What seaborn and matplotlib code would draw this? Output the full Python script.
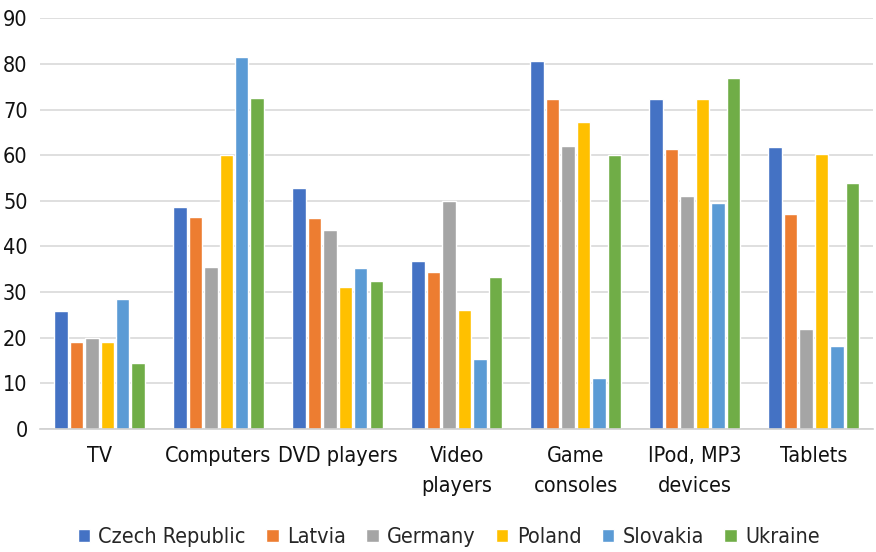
import matplotlib
matplotlib.use("Agg")
import matplotlib.pyplot as plt
from matplotlib import font_manager
import seaborn as sns
import pandas as pd

categories = ["TV", "Computers", "DVD players", "Video\nplayers", "Game\nconsoles",
              "IPod, MP3\ndevices", "Tablets"]
countries = ["Czech Republic", "Latvia", "Germany", "Poland", "Slovakia", "Ukraine"]

czech = [25.8, 48.7, 52.8, 36.9, 80.6, 72.2, 61.7]
latvia = [19.1, 46.5, 46.3, 34.4, 72.2, 61.4, 47.1]
germany = [19.9, 35.5, 43.6, 50.0, 62.0, 51.1, 22.0]
poland = [19.1, 60.0, 31.2, 26.1, 67.3, 72.2, 60.3]
slovakia = [28.5, 81.6, 35.2, 15.3, 11.2, 49.5, 18.2]
ukraine = [14.5, 72.5, 32.4, 33.3, 60.0, 77.0, 53.9]

colors = ["#4472C4", "#ED7D31", "#A5A5A5", "#FFC000", "#5B9BD5", "#70AD47"]

series = [czech, latvia, germany, poland, slovakia, ukraine]
rows = []
for country, vals in zip(countries, series):
    for cat, v in zip(categories, vals):
        rows.append({"category": cat, "country": country, "value": v})
df = pd.DataFrame(rows)

sns.set_theme(style="white")

# prefer a condensed sans face when one is installed
condensed = [f for f in font_manager.fontManager.ttflist
             if f.name.startswith("DejaVu Sans") and f.stretch == "condensed"
             and f.weight in (400, "normal", "book", "regular") and f.style == "normal"]
if condensed:
    plt.rcParams["font.family"] = [condensed[0].name, "DejaVu Sans"]
    plt.rcParams["font.stretch"] = "condensed"
    fs = 15.5
else:
    plt.rcParams["font.family"] = ["DejaVu Sans"]
    fs = 14

fig = plt.figure(figsize=(8.76, 5.52), dpi=100)
ax = fig.add_axes([0.0457, 0.2228, 0.951, 0.7442])

sns.barplot(data=df, x="category", y="value", hue="country", order=categories,
            hue_order=countries, palette=colors, width=0.78, gap=0.13,
            saturation=1, errorbar=None, ax=ax, legend=True)

ax.set_ylim(0, 90)
ax.set_yticks(range(0, 91, 10))
ax.yaxis.grid(True, color="#d9d9d9", linewidth=1.2)
ax.set_axisbelow(True)
for s in ["top", "right", "left"]:
    ax.spines[s].set_visible(False)
ax.spines["bottom"].set_color("#d0d0d0")
ax.spines["bottom"].set_linewidth(1.2)
ax.set_xlabel("")
ax.set_ylabel("")
ax.tick_params(axis="both", length=0, labelsize=fs, colors="#111111")
ax.tick_params(axis="x", pad=12)
ax.tick_params(axis="y", pad=9)
for lbl in ax.get_xticklabels():
    lbl.set_linespacing(1.65)
    lbl.set_verticalalignment("top")

handles, labels = ax.get_legend_handles_labels()
ax.get_legend().remove()
fig.legend(handles, labels, loc="center", bbox_to_anchor=(0.512, 0.027), ncol=6,
           frameon=False, fontsize=fs, handlelength=0.58, handleheight=0.58,
           handletextpad=0.38, columnspacing=0.95)

fig.savefig("out.png", dpi=100)
